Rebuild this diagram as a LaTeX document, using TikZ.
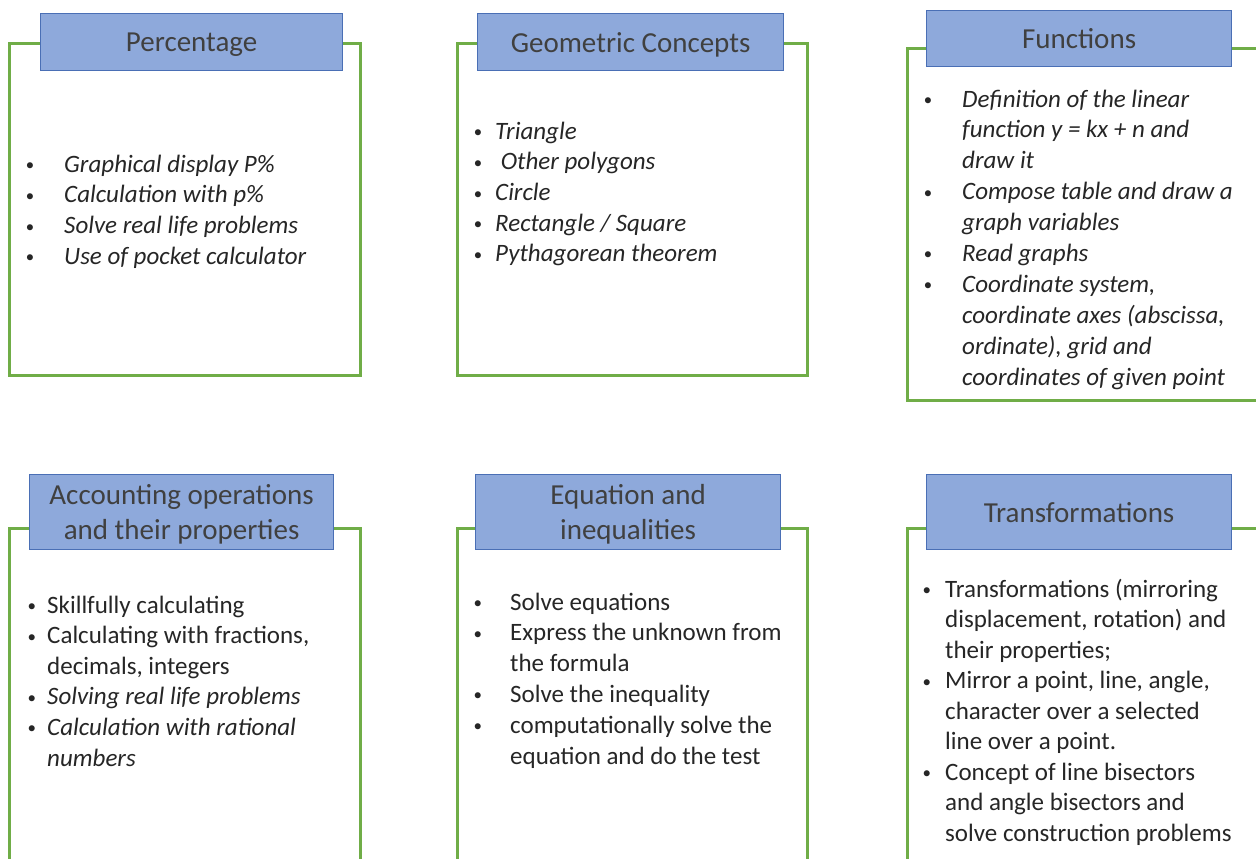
\documentclass[tikz,border=0pt]{standalone}
\usepackage{fontspec}
\setmainfont{Carlito}
\usepackage{xcolor}
\definecolor{boxgreen}{HTML}{70AD47}
\definecolor{headfill}{HTML}{8EA9DB}
\definecolor{headline}{HTML}{4A6FB5}
\definecolor{headtext}{HTML}{404040}
\definecolor{bodytext}{HTML}{262626}
\newcommand{\bl}[1]{\makebox[#1pt][l]{\hspace*{1.5pt}\raisebox{1.5pt}{\fontsize{17}{17}\selectfont\textbullet}}}
\newcommand{\nb}[1]{\hspace*{#1pt}}
\newcommand{\lst}[1]{\begin{tabular}[t]{@{}l@{}}#1\end{tabular}}

\begin{document}
\begin{tikzpicture}[x=1pt,y=-1pt]
\useasboundingbox (0,0) rectangle (1256,859);
\clip (0,0) rectangle (1256,859);
\tikzstyle{frame}=[draw=boxgreen, line width=3pt, fill=white,
                   anchor=north west, inner sep=0pt]
\tikzstyle{head}=[draw=headline, line width=1.2pt, fill=headfill,
                  anchor=north west, inner sep=0pt, text=headtext, text depth=0pt,
                  font=\fontsize{29}{35}\selectfont, align=center]
\tikzstyle{items}=[anchor=base west, inner sep=0pt,
                   text=bodytext, font=\fontsize{25}{31}\selectfont]
% top row
\node[frame, minimum width=351pt, minimum height=332pt] (percbox) at (8,42) {};
\node[head, minimum width=302pt, minimum height=57pt] (perchead) at (40,13) {Percentage};
\node[items, font=\fontsize{25}{30.8}\selectfont\itshape] (perclist) at (24,172)
  {\lst{\bl{40}Graphical display P\%\\
   \bl{40}Calculation with p\%\\
   \bl{40}Solve real life problems\\
   \bl{40}Use of pocket calculator}};

\node[frame, minimum width=350pt, minimum height=332pt] (geobox) at (456,42) {};
\node[head, minimum width=306pt, minimum height=57pt] (geohead) at (477,13) {Geometric Concepts};
\node[items, font=\fontsize{25}{30.75}\selectfont\itshape] (geolist) at (472,139)
  {\lst{\bl{23}Triangle\\
   \bl{23}\ Other polygons\\
   \bl{23}Circle\\
   \bl{23}Rectangle / Square\\
   \bl{23}Pythagorean theorem}};

\node[frame, minimum width=352pt, minimum height=352pt] (funbox) at (906,47) {};
\node[head, minimum width=305pt, minimum height=56pt] (funhead) at (926,10) {Functions};
\node[items, font=\fontsize{25}{30.9}\selectfont\itshape] (funlist) at (922,107)
  {\lst{\bl{40}Definition of the linear\\
   \nb{40}function y = kx + n and\\
   \nb{40}draw it\\
   \bl{40}Compose table and draw a\\
   \nb{40}graph variables\\
   \bl{40}Read graphs\\
   \bl{40}Coordinate system,\\
   \nb{40}coordinate axes (abscissa,\\
   \nb{40}ordinate), grid and\\
   \nb{40}coordinates of given point}};

% bottom row
\node[frame, minimum width=351pt, minimum height=360pt] (accbox) at (8,527) {};
\node[head, minimum width=304pt, minimum height=75pt] (acchead) at (29,474)
  {Accounting operations\\and their properties};
\node[items, font=\fontsize{25}{30.6}\selectfont] (acclist) at (26,613)
  {\lst{\bl{21}Skillfully calculating\\
   \bl{21}Calculating with fractions,\\
   \nb{21}decimals, integers\\
   \bl{21}\itshape Solving real life problems\\
   \bl{21}\itshape Calculation with rational\\
   \nb{21}\itshape numbers}};

\node[frame, minimum width=350pt, minimum height=360pt] (eqbox) at (456,527) {};
\node[head, minimum width=305pt, minimum height=75pt] (eqhead) at (475,474)
  {Equation and\\inequalities};
\node[items, font=\fontsize{25}{30.8}\selectfont] (eqlist) at (472,610)
  {\lst{\bl{38}Solve equations\\
   \bl{38}Express the unknown from\\
   \nb{38}the formula\\
   \bl{38}Solve the inequality\\
   \bl{38}computationally solve the\\
   \nb{38}equation and do the test}};

\node[frame, minimum width=352pt, minimum height=360pt] (trbox) at (906,527) {};
\node[head, minimum width=305pt, minimum height=75pt] (trhead) at (926,474) {Transformations};
\node[items, font=\fontsize{25}{30.5}\selectfont] (trlist) at (921,597)
  {\lst{\bl{24}Transformations (mirroring\\
   \nb{24}displacement, rotation) and\\
   \nb{24}their properties;\\
   \bl{24}Mirror a point, line, angle,\\
   \nb{24}character over a selected\\
   \nb{24}line over a point.\\
   \bl{24}Concept of line bisectors\\
   \nb{24}and angle bisectors and\\
   \nb{24}solve construction problems}};
\end{tikzpicture}
\end{document}
